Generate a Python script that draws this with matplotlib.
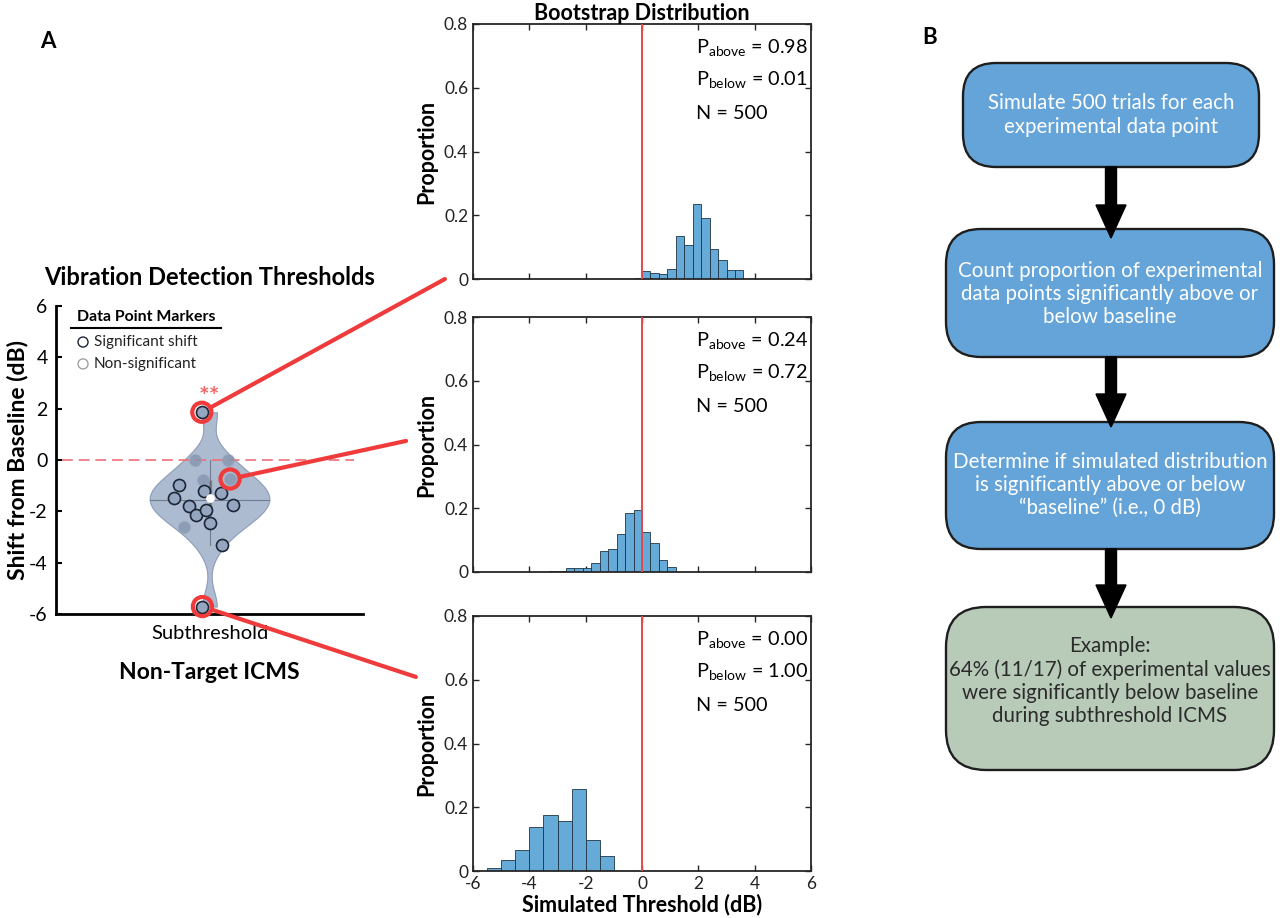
import numpy as np
import matplotlib.pyplot as plt
from matplotlib.patches import FancyBboxPatch, FancyArrow, ConnectionPatch
from matplotlib.lines import Line2D

plt.rcParams['font.family'] = ['Lato', 'DejaVu Sans']
plt.rcParams['mathtext.fontset'] = 'custom'
plt.rcParams['mathtext.rm'] = 'Lato'
plt.rcParams['axes.unicode_minus'] = False

# ---- violin data (shift from baseline, dB) ----
sig_y = [1.86, -0.99, -1.48, -1.78, -2.16, -1.22, -1.96, -2.44, -1.27, -1.77, -3.31, -5.71]
sig_dx = [-0.025, -0.099, -0.117, -0.068, -0.043, -0.017, -0.012, 0.0, 0.038, 0.076, 0.042, -0.023]
ns_y = [0.0, 0.0, -0.79, -0.74, -2.60]
ns_dx = [-0.046, 0.059, -0.020, 0.067, -0.084]
highlight = [('sig', 0), ('ns', 3), ('sig', 11)]   # top, middle, bottom histogram

# ---- bootstrap histograms ----
hist_starts = [-0.3, -3.3, -5.5]
hist_widths = [0.3, 0.3, 0.5]
hist_heights = [
    [0.004, 0.024, 0.019, 0.015, 0.031, 0.136, 0.108, 0.235, 0.191, 0.093, 0.061, 0.027, 0.027],
    [0.003, 0.003, 0.011, 0.014, 0.014, 0.027, 0.067, 0.071, 0.120, 0.185, 0.193, 0.126, 0.091, 0.039, 0.015],
    [0.008, 0.035, 0.066, 0.137, 0.176, 0.158, 0.258, 0.097, 0.047],
]
p_above = ['0.98', '0.24', '0.00']
p_below = ['0.01', '0.72', '1.00']
n_boot = 500

RED = '#ef3b3b'
W, H = 1280, 918
fig = plt.figure(figsize=(W / 100, H / 100), dpi=100)


def px_axes(l, t, r, b):
    return fig.add_axes([l / W, 1 - b / H, (r - l) / W, (b - t) / H])


# ================= violin panel =================
axv = px_axes(56, 306, 363, 614)
all_y = sig_y + ns_y
parts = axv.violinplot([all_y], positions=[1], widths=0.39, showextrema=False, bw_method=0.38)
body = parts['bodies'][0]
body.set_facecolor('#a4b4cc')
body.set_edgecolor('#8696b3')
body.set_linewidth(0.8)
body.set_alpha(0.9)

q1, med, q3 = np.percentile(all_y, [25, 50, 75])
iqr = q3 - q1
arr = np.array(all_y)
w_hi = arr[arr <= q3 + 1.5 * iqr].max()
w_lo = arr[arr >= q1 - 1.5 * iqr].min()
mean = arr.mean()
verts = body.get_paths()[0].vertices
right = verts[verts[:, 0] > 1]
hw = right[np.argmin(np.abs(right[:, 1] - mean)), 0] - 1

axv.plot([1, 1], [w_lo, w_hi], color='#6f7c90', lw=0.8, zorder=2)
axv.plot([1 - hw, 1 + hw], [mean, mean], color='#6f7c90', lw=0.8, zorder=2)
axv.plot([1, 1], [q1, q3], color='#5a5a5a', lw=2.5, alpha=0.55, zorder=2, solid_capstyle='butt')
axv.axhline(0, xmin=0.02, xmax=0.97, color='#ee6f78', lw=1.2, ls=(0, (6.5, 3.5)), zorder=3)

sx = [1 + d for d in sig_dx]
nx = [1 + d for d in ns_dx]
axv.scatter(nx, ns_y, s=75, facecolor='#8393ae', edgecolor='#9aa7bd', lw=0.6, alpha=0.75, zorder=4)
axv.scatter(sx, sig_y, s=75, facecolor='#95a6c1', edgecolor='#1c2536', lw=1.2, zorder=5)
axv.scatter([1], [med], s=28, color='white', zorder=6)

axv.set_xlim(0.5, 1.5)
axv.set_ylim(-6, 6)
axv.set_yticks(range(-6, 7, 2))
axv.set_xticks([1])
axv.set_xticklabels(['Subthreshold'])
axv.tick_params(axis='y', direction='in', length=4, width=1.5, labelsize=14, pad=6)
axv.tick_params(axis='x', length=0, labelsize=14.5, pad=8)
for s in ['top', 'right']:
    axv.spines[s].set_visible(False)
for s in ['left', 'bottom']:
    axv.spines[s].set_linewidth(2)
axv.text(0.5, 1.094, 'Vibration Detection Thresholds', transform=axv.transAxes,
         ha='center', va='center', fontsize=17, fontweight='bold')
axv.text(0.5, -0.19, 'Non-Target ICMS', transform=axv.transAxes,
         ha='center', va='center', fontsize=16.5, fontweight='bold')
axv.text(-0.124, 0.5, 'Shift from Baseline (dB)', transform=axv.transAxes, rotation=90,
         ha='center', va='center', fontsize=16.5, fontweight='bold')
axv.text(1.0, 2.45, '**', color='#f06868', fontsize=18, fontweight='bold', ha='center', va='center')

# legend drawn by hand
axv.text(0.068, 0.964, 'Data Point Markers', transform=axv.transAxes, fontsize=11.4,
         fontweight='bold', va='center')
axv.add_line(Line2D([0.049, 0.537], [0.929, 0.929], transform=axv.transAxes, color='black', lw=1.5))
axv.scatter([0.088], [0.883], s=52, transform=axv.transAxes, facecolor='none',
            edgecolor='#1c2536', lw=1, clip_on=False)
axv.scatter([0.088], [0.812], s=52, transform=axv.transAxes, facecolor='none',
            edgecolor='#a0a0a0', lw=1, clip_on=False)
axv.text(0.124, 0.883, 'Significant shift', transform=axv.transAxes, fontsize=11, va='center', color='#222')
axv.text(0.124, 0.812, 'Non-significant', transform=axv.transAxes, fontsize=11, va='center', color='#222')

# ================= histograms =================
hist_rows = [(24, 279), (317, 572), (616, 871)]
hist_axes = []
for i, (t, b) in enumerate(hist_rows):
    ax = px_axes(473, t, 811, b)
    hts = hist_heights[i]
    lefts = [hist_starts[i] + k * hist_widths[i] for k in range(len(hts))]
    ax.bar(lefts, hts, width=hist_widths[i], align='edge', color='#66aad7',
           edgecolor='#1f3444', lw=0.6, zorder=2)
    ax.axvline(0, color='#e8474d', lw=1.4, zorder=3)
    ax.set_xlim(-6, 6)
    ax.set_ylim(0, 0.8)
    ax.set_xticks(range(-6, 7, 2))
    ax.set_yticks([0, 0.2, 0.4, 0.6, 0.8])
    ax.set_yticklabels(['0', '0.2', '0.4', '0.6', '0.8'])
    ax.tick_params(direction='in', top=True, right=True, length=4, width=1,
                   labelsize=12.5, colors='#262626', labelcolor='#222')
    if i < 2:
        ax.set_xticklabels([])
    for s in ax.spines.values():
        s.set_linewidth(1.3)
        s.set_color('#262626')
    ax.text(-0.136, 0.5, 'Proportion', transform=ax.transAxes, rotation=90,
            ha='center', va='center', fontsize=15.5, fontweight='bold')
    ax.text(0.66, 0.906, r'P$_{\mathrm{above}}$ = ' + p_above[i], transform=ax.transAxes,
            fontsize=14.3, va='center')
    ax.text(0.66, 0.78, r'P$_{\mathrm{below}}$ = ' + p_below[i], transform=ax.transAxes,
            fontsize=14.3, va='center')
    ax.text(0.66, 0.65, f'N = {n_boot}', transform=ax.transAxes, fontsize=14.3, va='center')
    hist_axes.append(ax)

hist_axes[0].set_title('Bootstrap Distribution', fontsize=15.5, fontweight='bold', pad=2)
hist_axes[2].text(0.5, -0.133, 'Simulated Threshold (dB)', transform=hist_axes[2].transAxes,
                  ha='center', va='center', fontsize=15.5, fontweight='bold')

# red highlight circles + connectors
ends = [(-0.083, 0.0), (-0.198, 0.514), (-0.169, 0.761)]
for (kind, idx), ax, end in zip(highlight, hist_axes, ends):
    if kind == 'sig':
        px, py = sx[idx], sig_y[idx]
    else:
        px, py = nx[idx], ns_y[idx]
    axv.scatter([px], [py], s=190, facecolor='none', edgecolor=RED, lw=3, zorder=7, clip_on=False)
    con = ConnectionPatch(xyA=(px, py), coordsA=axv.transData, xyB=end, coordsB=ax.transAxes,
                          color=RED, lw=3, shrinkA=7, shrinkB=0, zorder=8)
    fig.add_artist(con)

# ================= panel B flowchart =================
axb = px_axes(900, 0, 1280, 918)
axb.set_xlim(900, 1280)
axb.set_ylim(918, 0)
axb.axis('off')

boxes = [
    (963, 63, 1259, 167, 33, '#64a4d8', 'white', 'Simulate 500 trials for each\nexperimental data point', 115),
    (946, 229, 1274, 357, 35, '#64a4d8', 'white',
     'Count proportion of experimental\ndata points significantly above or\nbelow baseline', 294),
    (946, 422, 1274, 549, 35, '#64a4d8', 'white',
     'Determine if simulated distribution\nis significantly above or below\n\u201cbaseline\u201d (i.e., 0 dB)', 485),
    (946, 607, 1274, 770, 40, '#b8cbb9', '#2b2b2b',
     'Example:\n64% (11/17) of experimental values\nwere significantly below baseline\nduring subthreshold ICMS', 681),
]
for x0, y0, x1, y1, r, fc, tc, txt, ty in boxes:
    axb.add_patch(FancyBboxPatch((x0, y0), x1 - x0, y1 - y0,
                                 boxstyle=f'round,pad=0,rounding_size={r}',
                                 fc=fc, ec='#1e1e1e', lw=1.7))
    axb.text((x0 + x1) / 2, ty, txt, ha='center', va='center', color=tc,
             fontsize=14.8, linespacing=1.2)

for ys, ye in [(167, 238), (357, 427), (549, 618)]:
    axb.add_patch(FancyArrow(1111, ys, 0, ye - ys, width=11, head_width=30, head_length=33,
                             length_includes_head=True, color='black', zorder=5))

fig.text(48 / W, 1 - 42 / H, 'A', fontsize=16, fontweight='bold', ha='center', va='center')
fig.text(930 / W, 1 - 38 / H, 'B', fontsize=16, fontweight='bold', ha='center', va='center')

plt.savefig('out.png', dpi=100)
plt.close()
